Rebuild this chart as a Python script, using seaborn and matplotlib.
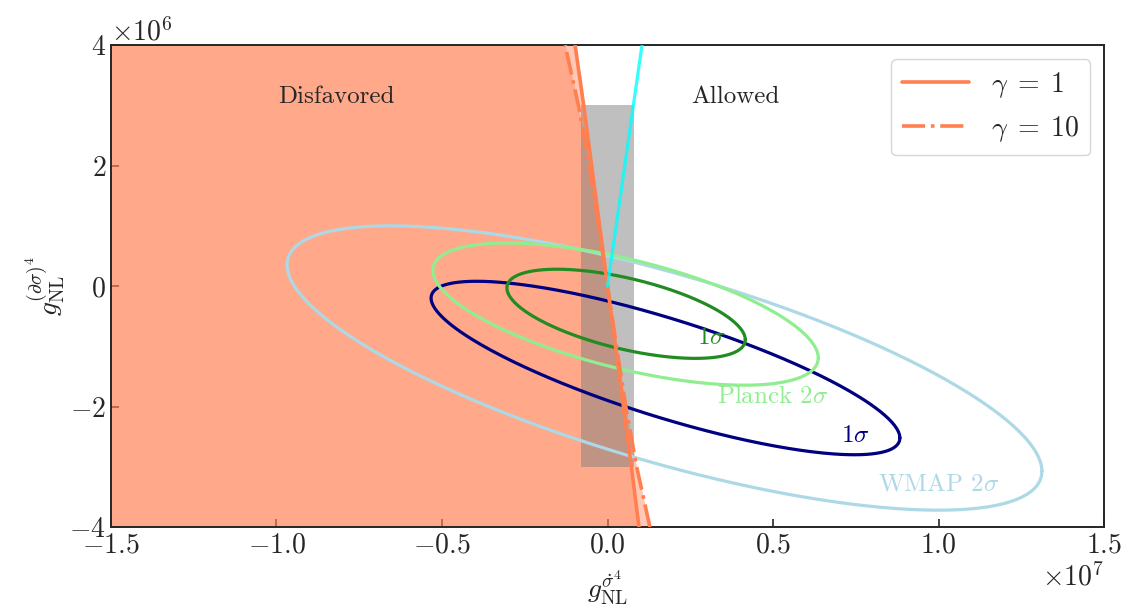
import numpy as np
import pandas as pd
import matplotlib
matplotlib.use('Agg')
import matplotlib.pyplot as plt
import seaborn as sns

# === DATA (units of 1e6) ===
# boundary curves, x read at given y
bound_y = [-4, -3, -2, -1, 0, 1, 2, 3, 4]
bound_x_g1 = [0.95, 0.72, 0.48, 0.24, 0.0, -0.24, -0.48, -0.72, -0.98]
bound_x_g10 = [1.28, 0.88, 0.55, 0.27, 0.0, -0.27, -0.55, -0.88, -1.28]

# cyan ray from origin
ray_x = [0.0, 1.04]
ray_y = [0.0, 4.0]

# gray box
box_x = [-0.8, 0.8]
box_y = [-3.0, 3.0]

# ellipse contours: centre, half-widths in x / y, phase between x and y (deg)
ell_names = ['WMAP 2sig', 'WMAP 1sig', 'Planck 2sig', 'Planck 1sig']
ell_cx = [1.72, 1.75, 0.545, 0.56]
ell_cy = [-1.36, -1.36, -0.465, -0.46]
ell_ax = [11.4, 7.08, 5.82, 3.6]
ell_ay = [2.36, 1.44, 1.18, 0.74]
ell_phase = [136.5, 143.7, 128.0, 125.5]
ell_colors = ['lightblue', 'navy', 'lightgreen', 'forestgreen']

# contour labels
lab_text = [r'WMAP $2\sigma$', r'$1\sigma$', r'Planck $2\sigma$', r'$1\sigma$']
lab_x = [10.0, 7.47, 5.0, 3.15]
lab_y = [-3.29, -2.49, -1.84, -0.86]

legend_labels = [r'$\gamma\;=\;1$', r'$\gamma\;=\;10$']

scale = 1e6

# === STYLE ===
sns.set_style('ticks')
plt.rcParams['font.family'] = ['cmr10']
plt.rcParams['mathtext.fontset'] = 'cm'
plt.rcParams['axes.formatter.use_mathtext'] = True
plt.rcParams['font.size'] = 20
plt.rcParams['axes.linewidth'] = 1.4

fig = plt.figure(figsize=(11.23, 6.10), dpi=100)
ax = fig.add_axes([0.0988, 0.136, 0.8844, 0.790])

by = np.array(bound_y) * scale
x1 = np.array(bound_x_g1) * scale
x10 = np.array(bound_x_g10) * scale

# disfavored region
ax.fill_betweenx(by, -1.5e7, x1, color='coral', alpha=0.42, lw=0, zorder=1)
ax.fill_betweenx(by, -1.5e7, x10, color='coral', alpha=0.42, lw=0, zorder=1)

# gray band
ax.fill_between(np.array(box_x) * scale, box_y[0] * scale, box_y[1] * scale,
                color='gray', alpha=0.5, lw=0, zorder=2)

# ellipses
t = np.linspace(0, 2 * np.pi, 400)
for name, cx, cy, a, b, ph, col in zip(ell_names, ell_cx, ell_cy, ell_ax, ell_ay,
                                       ell_phase, ell_colors):
    df = pd.DataFrame({
        'x': (cx + a * np.cos(t)) * scale,
        'y': (cy + b * np.cos(t + np.radians(ph))) * scale,
    })
    sns.lineplot(data=df, x='x', y='y', sort=False, estimator=None,
                 color=col, lw=2.3, ax=ax, zorder=3)

# boundary lines
sns.lineplot(x=x1, y=by, sort=False, estimator=None, color='coral', lw=2.6,
             ax=ax, zorder=4, label=legend_labels[0])
sns.lineplot(x=x10, y=by, sort=False, estimator=None, color='coral', lw=2.6,
             ls='-.', ax=ax, zorder=4, label=legend_labels[1])

# cyan ray
ax.plot(np.array(ray_x) * scale, np.array(ray_y) * scale, color='cyan',
        alpha=0.8, lw=2.3, zorder=5)

# labels on plot
for s, lx, ly, col in zip(lab_text, lab_x, lab_y, ell_colors):
    ax.text(lx * scale, ly * scale, s, color=col, fontsize=18,
            ha='center', va='center', zorder=6)
ax.text(-8.2e6, 3.14e6, 'Disfavored', fontsize=18, ha='center', va='center')
ax.text(3.85e6, 3.14e6, 'Allowed', fontsize=18, ha='center', va='center')

ax.set_xlim(-1.5e7, 1.5e7)
ax.set_ylim(-4e6, 4e6)
ax.set_xticks(np.arange(-1.5e7, 1.51e7, 0.5e7))
ax.set_yticks(np.arange(-4e6, 4.1e6, 2e6))
ax.tick_params(direction='in', length=6, width=1.2, top=False, right=False)
ax.set_xlabel(r'$g_{\rm NL}^{\dot{\sigma}^4}$', fontsize=20, labelpad=7)
ax.set_ylabel(r'$g_{\rm NL}^{(\partial\sigma)^4}$', fontsize=20, labelpad=2)

ax.legend(loc='upper right', handlelength=2.4, fontsize=20)

fig.savefig('out.png', dpi=100)
print("Saved plot: out.png")
